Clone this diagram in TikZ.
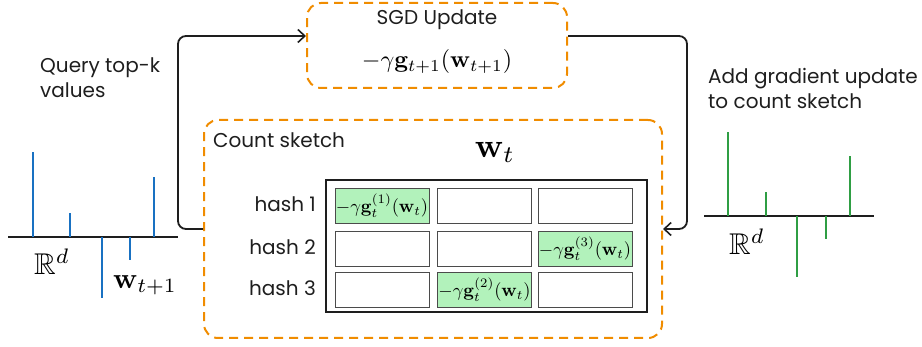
\documentclass[tikz,border=0pt]{standalone}
\usepackage{amssymb}
\usepackage{graphicx}
\usepackage[no-math]{fontspec}
\newfontfamily\hand{Poppins}
\usetikzlibrary{arrows.meta}
\definecolor{orng}{HTML}{F08C00}
\definecolor{blu}{HTML}{1971C2}
\definecolor{grn}{HTML}{2F9E44}
\definecolor{lgrn}{HTML}{B2F2BB}
\definecolor{ink}{HTML}{1E1E1E}
\tikzset{
  dbox/.style={draw=orng, line width=2pt, dash pattern=on 9pt off 6pt, rounded corners=14pt},
  htxt/.style={font=\hand\fontsize{20}{25}\selectfont, text=ink, inner sep=0pt, align=left},
  cell/.style={draw=ink!80, line width=0.9pt, minimum width=94pt, minimum height=35pt, inner sep=0pt},
  gcell/.style={cell, fill=lgrn},
  conn/.style={draw=ink, line width=1.8pt, rounded corners=8pt, -{Straight Barb[length=7pt,width=13pt,line width=1.6pt]}},
  bbar/.style={draw=blu, line width=2pt},
  gbar/.style={draw=grn, line width=2pt},
  axis/.style={draw=ink, line width=1.5pt},
}
\begin{document}
\begin{tikzpicture}[x=1pt,y=-1pt]
\useasboundingbox (0,0) rectangle (922,347);
% SGD box
\node[dbox, minimum width=260pt, minimum height=85pt] (sgd) at (437,45.5) {};
\node[htxt, anchor=center] (sgdt) at (437,20) {SGD Update};
\node[inner sep=0pt] (sgdm) at (437,62) {\scalebox{2.4}{$-\gamma\mathbf{g}_{t+1}(\mathbf{w}_{t+1})$}};
% Count sketch box
\node[dbox, minimum width=458pt, minimum height=218pt] (cs) at (433,229) {};
\node[htxt, anchor=west] (cst) at (213,140) {Count sketch};
\node[inner sep=0pt] (wt) at (495,152) {\scalebox{3.4}{$\mathbf{w}_t$}};
% table
\node[draw=ink, line width=1.1pt, minimum width=321pt, minimum height=132pt, inner sep=0pt] (tbl) at (486.5,246) {};
\node[gcell] (c11) at (382,205.5) {\scalebox{1.85}{$-\gamma\mathbf{g}_t^{(1)}(\mathbf{w}_t)$}};
\node[cell] (c12) at (484.5,205.5) {};
\node[cell] (c13) at (585,205.5) {};
\node[cell] (c21) at (382,248.5) {};
\node[cell] (c22) at (484.5,248.5) {};
\node[gcell] (c23) at (585,248.5) {\scalebox{1.85}{$-\gamma\mathbf{g}_t^{(3)}(\mathbf{w}_t)$}};
\node[cell] (c31) at (382,289.5) {};
\node[gcell] (c32) at (484.5,289.5) {\scalebox{1.85}{$-\gamma\mathbf{g}_t^{(2)}(\mathbf{w}_t)$}};
\node[cell] (c33) at (585,289.5) {};
\node[htxt, anchor=east] (h1) at (316,204) {hash 1};
\node[htxt, anchor=east] (h2) at (316,247) {hash 2};
\node[htxt, anchor=east] (h3) at (316,288) {hash 3};
% connectors
\draw[conn] (cs.west) -| (178,36) -- ([yshift=9.5pt]sgd.west);
\draw[conn] ([yshift=9.5pt]sgd.east) -| (687,150) |- (cs.east);
% left text
\node[htxt, anchor=north west] (qtxt) at (40,58) {Query top-k\\values};
% left chart
\coordinate (la) at (8,237);
\coordinate (lb) at (178,237);
\draw[axis] (la) -- (lb);
\coordinate (b1) at (33,237); \draw[bbar] (b1) -- ++(0,-85);
\coordinate (b2) at (70,237); \draw[bbar] (b2) -- ++(0,-24);
\coordinate (b3) at (154,237); \draw[bbar] (b3) -- ++(0,-60);
\coordinate (b4) at (102,237); \draw[bbar] (b4) -- ++(0,61);
\coordinate (b5) at (130,237); \draw[bbar] (b5) -- ++(0,23);
\node[inner sep=0pt] (lR) at (52,262) {\scalebox{3}{$\mathbb{R}^d$}};
\node[inner sep=0pt, anchor=west] (lw) at (113,285) {\scalebox{2.9}{$\mathbf{w}_{t+1}$}};
% right text
\node[htxt, anchor=north west] (atxt) at (708,68) {Add gradient update\\to count sketch};
% right chart
\coordinate (ra) at (704,216);
\coordinate (rb) at (874,216);
\draw[axis] (ra) -- (rb);
\coordinate (g1) at (728,216); \draw[gbar] (g1) -- ++(0,-84);
\coordinate (g2) at (766,216); \draw[gbar] (g2) -- ++(0,-24);
\coordinate (g3) at (850,216); \draw[gbar] (g3) -- ++(0,-60);
\coordinate (g4) at (797,216); \draw[gbar] (g4) -- ++(0,61);
\coordinate (g5) at (826,216); \draw[gbar] (g5) -- ++(0,23);
\node[inner sep=0pt] (rR) at (747,242) {\scalebox{3}{$\mathbb{R}^d$}};
\end{tikzpicture}
\end{document}
